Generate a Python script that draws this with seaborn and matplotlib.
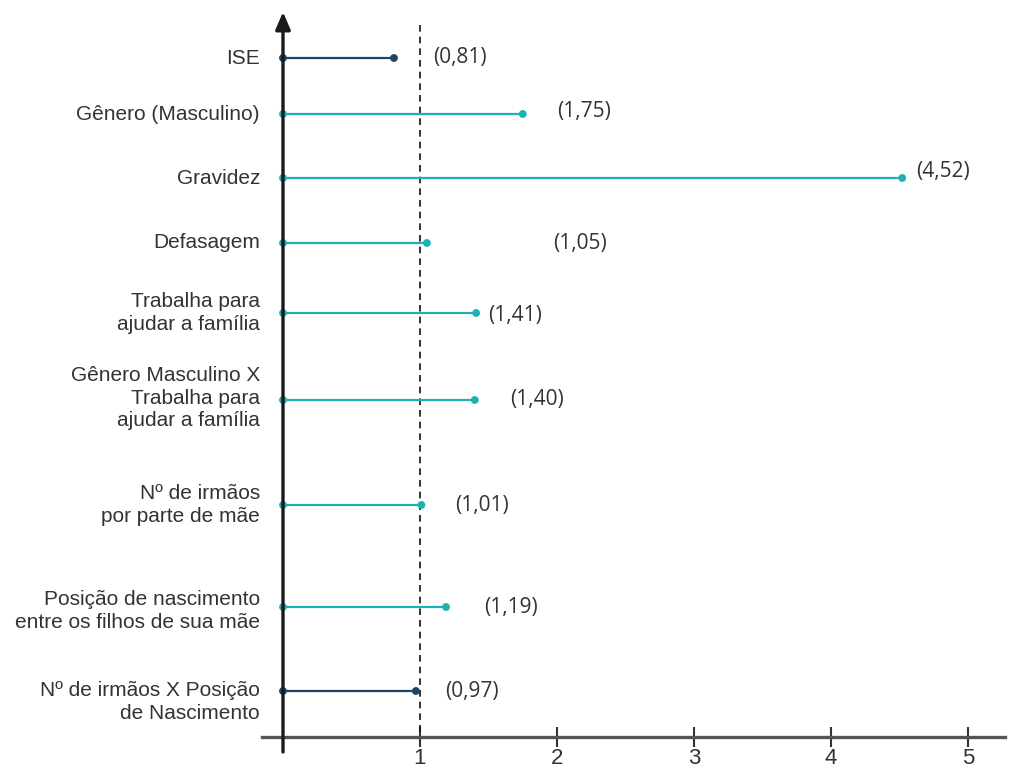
import matplotlib
matplotlib.use("Agg")
import matplotlib.pyplot as plt
import seaborn as sns
import pandas as pd

# ---- data ----
categories = [
    "ISE",
    "Gênero (Masculino)",
    "Gravidez",
    "Defasagem",
    "Trabalha para\najudar a família",
    "Gênero Masculino X\nTrabalha para\najudar a família",
    "Nº de irmãos\npor parte de mãe",
    "Posição de nascimento\nentre os filhos de sua mãe",
    "Nº de irmãos X Posição\nde Nascimento",
]
values = [0.81, 1.75, 4.52, 1.05, 1.41, 1.40, 1.01, 1.19, 0.97]
value_labels = ["(0,81)", "(1,75)", "(4,52)", "(1,05)", "(1,41)", "(1,40)", "(1,01)", "(1,19)", "(0,97)"]
groups = ["a", "b", "b", "b", "b", "b", "b", "b", "a"]
x_ticks = [1, 2, 3, 4, 5]

# ---- layout (pixel-like vertical positions, offsets) ----
row_y = [58, 114, 178, 243, 313, 400, 505, 607, 691]
label_dy = [0, 0, 0, 0, 0, -2, 0, 4, 11]
value_dx = [39, 34, 14, 126, 12, 35, 34, 38, 29]
value_dy = [0, -2, -6, 0, 2, 0, 0, 0, 0]

palette = {"a": "#1d4466", "b": "#1fb0b2"}
txt_color = "#333333"

df = pd.DataFrame({"cat": categories, "value": values, "y": row_y, "grp": groups})

sns.set_style("white")
plt.rcParams["font.family"] = ["Liberation Sans", "DejaVu Sans"]

fig = plt.figure(figsize=(10.2, 7.7), dpi=100)
ax = fig.add_axes([0, 0, 1, 1])
ppu = 137.0
x0 = 283.0
ax.set_xlim(-x0 / ppu, (1020 - x0) / ppu)
ax.set_ylim(770, 0)

# reference dashed line at 1
ax.plot([1, 1], [25, 737], color="#111111", lw=1.2, ls=(0, (4, 3)), zorder=1)

# stems
for _, r in df.iterrows():
    ax.plot([0, r["value"]], [r["y"], r["y"]], color=palette[r["grp"]], lw=1.6, zorder=2)

# end dots and start dots
sns.scatterplot(data=df, x="value", y="y", hue="grp", palette=palette, s=32,
                edgecolor="none", legend=False, ax=ax, zorder=3)
df0 = df.assign(zero=0.0)
sns.scatterplot(data=df0, x="zero", y="y", hue="grp", palette=palette, s=32,
                edgecolor="none", legend=False, ax=ax, zorder=3)

# value annotations
for v, y, lab, dx, dy in zip(values, row_y, value_labels, value_dx, value_dy):
    ax.annotate(lab, xy=(v, y), xytext=(dx, -dy), textcoords="offset pixels",
                ha="left", va="center", fontsize=15, color=txt_color,
                family=["Open Sans", "DejaVu Sans"])

# category labels
for c, y, dy in zip(categories, row_y, label_dy):
    ax.annotate(c, xy=(0, y + dy), xytext=(-23, 0), textcoords="offset pixels",
                ha="right", va="center", fontsize=15, color=txt_color,
                linespacing=1.22)

# y axis with arrow
ax.annotate("", xy=(0, 12), xytext=(0, 752),
            arrowprops=dict(arrowstyle="-|>,head_length=0.7,head_width=0.3",
                            lw=2.4, color="#1a1a1a", mutation_scale=15,
                            shrinkA=0, shrinkB=0), zorder=4)

# x axis
for s in ["top", "right", "left"]:
    ax.spines[s].set_visible(False)
ax.spines["bottom"].set_position(("data", 737))
ax.spines["bottom"].set_bounds((262 - x0) / ppu, (1005 - x0) / ppu)
ax.spines["bottom"].set_color("#555555")
ax.spines["bottom"].set_linewidth(2.4)
ax.set_xticks(x_ticks)
ax.set_xticklabels([str(t) for t in x_ticks])
ax.tick_params(axis="x", direction="inout", length=14, width=1.5, color="#333333",
               labelsize=16, labelcolor=txt_color, pad=1, bottom=True)
ax.set_yticks([])
ax.set_xlabel("")
ax.set_ylabel("")
ax.patch.set_alpha(0)

fig.savefig("out.png", dpi=100, facecolor="white")
